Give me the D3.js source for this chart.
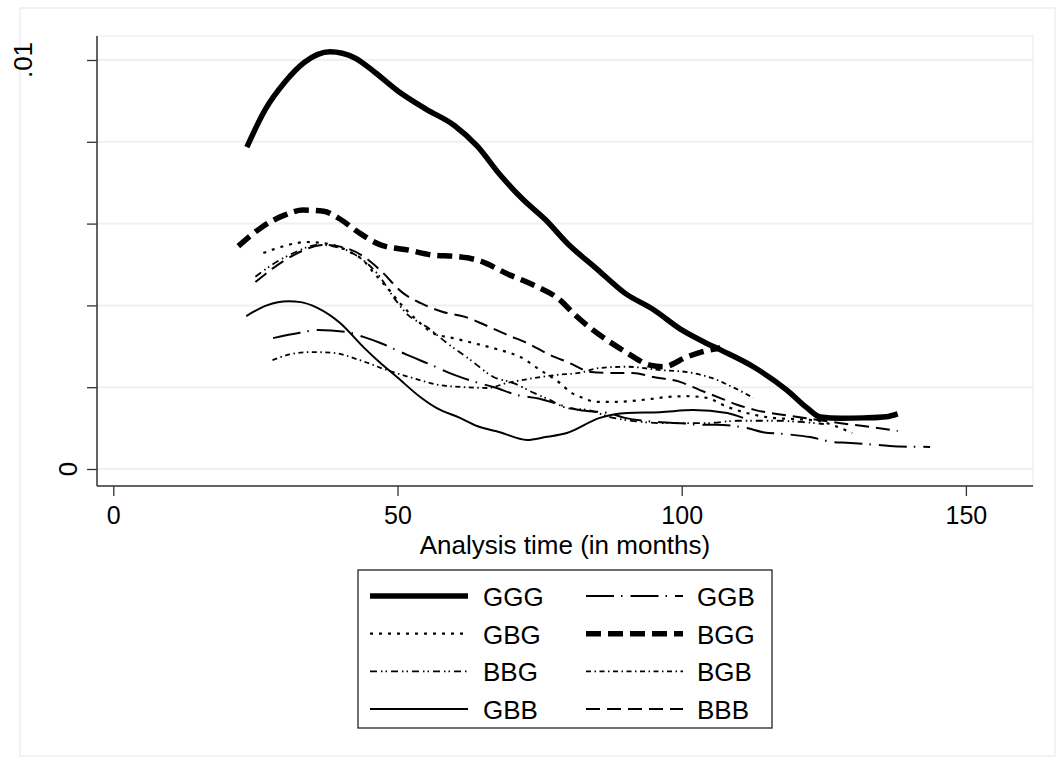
<!DOCTYPE html>
<html>
<head>
<meta charset="utf-8">
<script src="https://cdn.jsdelivr.net/npm/d3@7"></script>
<style>
  body { margin: 0; background: #fff; }
  text { font-family: "Liberation Sans", Arial, sans-serif; fill: #000; }
</style>
</head>
<body>
<svg id="chart" width="1061" height="763"></svg>
<script>
// smoothed hazard estimates, [months, hazard]
const GGG = [[23.5,0.00787],[26.7,0.00878],[30.2,0.00946],[33.7,0.00995],[38.1,0.0102],[42.5,0.01005],[46,0.0097],
  [50,0.00925],[55,0.0088],[60,0.0084],[64,0.0079],[68,0.0072],[72,0.0066],[76,0.0061],[80,0.0055],[85,0.0049],
  [90,0.0043],[95,0.0039],[100,0.0034],[104,0.0031],[107,0.0029],[112.6,0.0025],[118.5,0.00193],[122,0.0015],
  [124.4,0.00127],[128,0.00124],[132,0.00125],[136,0.00128],[138,0.00135]];
const GGB = [[28.1,0.0032],[32.8,0.00333],[36,0.0034],[41.1,0.00335],[44,0.00323],[47,0.00308],[51.7,0.00279],
  [56,0.00254],[60,0.0023],[63.6,0.00213],[67,0.002],[71,0.00181],[75,0.00172],[79,0.00155],[82,0.00144],
  [87,0.00137],[90,0.00125],[95.6,0.00115],[100,0.00112],[103.2,0.00108],[106,0.00108],[111.5,0.001],
  [114.3,0.0009],[118.5,0.00085],[122.6,0.00078],[126.6,0.00066],[129,0.00064],[134.4,0.00059],[138.4,0.00055],[143.7,0.00054]];
const GBG = [[26.4,0.00528],[30,0.00545],[34,0.00555],[38,0.0055],[41.7,0.0053],[44,0.0051],[45.8,0.0048],
  [48.1,0.00445],[50.4,0.00406],[53.4,0.00364],[56.3,0.00332],[59.8,0.0032],[63.3,0.00308],[68,0.00291],
  [71.6,0.00274],[75.1,0.00242],[78.6,0.0021],[80.4,0.00188],[82.6,0.00174],[85,0.00164],[88,0.00164],
  [91,0.00166],[94.4,0.00171],[97.4,0.00176],[100.9,0.00178],[104.4,0.00174],[108,0.00152],[112,0.00135],
  [116,0.00125],[120,0.00122],[124,0.00118],[127,0.00105],[130,0.00088]];
const BGG = [[22,0.00545],[26,0.0059],[30,0.0062],[33.4,0.00633],[37,0.0063],[40,0.0061],[43,0.0058],[47,0.00548],
  [52,0.00535],[56.3,0.00523],[60,0.0052],[64,0.00511],[69.8,0.00474],[73.9,0.0045],[78.6,0.00413],[81,0.0038],
  [83.9,0.00345],[86.9,0.00315],[90.4,0.00284],[94.4,0.00254],[96.8,0.0025],[100.9,0.00274],[104,0.00288],[106.8,0.00296]];
const BBG = [[25,0.0047],[28,0.0050],[32,0.0053],[36,0.00548],[40,0.0054],[43,0.0052],[46.9,0.0047],[49.3,0.0042],
  [51.6,0.0038],[55.2,0.00347],[58.7,0.00308],[62.8,0.00267],[66.9,0.00225],[70.4,0.0021],[74,0.00186],
  [76.8,0.00169],[79.8,0.00149],[83.6,0.00144],[87.4,0.00127],[93,0.00115],[97.4,0.00112],[104,0.00112],
  [110,0.00118],[116,0.00118],[121,0.00115],[125,0.0011]];
const BGB = [[28,0.00266],[31,0.0028],[34.7,0.00286],[38.7,0.00284],[43.4,0.00266],[48.1,0.00242],[52.8,0.00222],
  [57.5,0.00205],[62.2,0.002],[65.8,0.00198],[69.2,0.0021],[73.9,0.00222],[78,0.0023],[82,0.00235],[85.6,0.00247],
  [90.4,0.0025],[96.2,0.00242],[100.9,0.00237],[105.4,0.00222],[109,0.002],[112.6,0.00174]];
const GBB = [[23.4,0.00374],[27,0.004],[30.8,0.0041],[33,0.00408],[35.9,0.00394],[39.9,0.00357],[44,0.00298],
  [47,0.00259],[49.9,0.00225],[54,0.00176],[57,0.00148],[61,0.00125],[64,0.00105],[68,0.0009],[72.8,0.00071],
  [76,0.00078],[79.8,0.00088],[85.6,0.00125],[90.4,0.00137],[96.2,0.00139],[102,0.00144],[108,0.00137],[110.8,0.00125]];
const BBB = [[25,0.00457],[28,0.0049],[32,0.00525],[37,0.00548],[41,0.0054],[44,0.0052],[46.9,0.00487],[51,0.0043],
  [54,0.00406],[58,0.00384],[61.9,0.00372],[65.4,0.00352],[69.3,0.00328],[72.8,0.00308],[76.8,0.00279],
  [80.3,0.00259],[84,0.00237],[87.4,0.00235],[91.4,0.00235],[95,0.00225],[99.7,0.00213],[103.2,0.00193],
  [106.7,0.00174],[110,0.00156],[113,0.00144],[118,0.00132],[124,0.0012],[128,0.00112],[133,0.00103],[138,0.00093]];

const xTicks = [0, 50, 100, 150];
const yTicks = [0, 0.002, 0.004, 0.006, 0.008, 0.01];
const yLabels = {0: "0", 0.01: ".01"};

// legend order: left column then right column
const legendLeft = ["GGG", "GBG", "BBG", "GBB"];
const legendRight = ["GGB", "BGG", "BGB", "BBB"];

const series = {GGG, GGB, GBG, BGG, BBG, BGB, GBB, BBB};
const styles = {
  GGG: {w: 5.5, dash: null},
  GGB: {w: 2, dash: "28,7,1.5,8"},
  GBG: {w: 2.2, dash: "3,6"},
  BGG: {w: 5.5, dash: "15,7"},
  BBG: {w: 1.8, dash: "7,4,1.5,3,1.5,4"},
  BGB: {w: 1.8, dash: "5,3.5,1.5,3.5"},
  GBB: {w: 2, dash: null},
  BBB: {w: 2, dash: "14,7"}
};

const svg = d3.select("#chart");
const plotL = 97, plotR = 1033, plotT = 36, plotB = 486;
const fs = "26px";

const x = d3.scaleLinear().domain([0, 150]).range([113.3, 965.9]);
const y = d3.scaleLinear().domain([0, 0.01]).range([469, 60]);

// outer frame
svg.append("rect").attr("x", 20).attr("y", 8).attr("width", 1035).attr("height", 748)
  .attr("fill", "none").attr("stroke", "#eaf0f2").attr("stroke-width", 1.5);

// plot region border (light)
svg.append("rect").attr("x", plotL).attr("y", plotT).attr("width", plotR - plotL).attr("height", plotB - plotT)
  .attr("fill", "none").attr("stroke", "#eaf2f3").attr("stroke-width", 1.5);

// grid
svg.append("g").selectAll("line").data(yTicks).enter().append("line")
  .attr("x1", plotL).attr("x2", plotR)
  .attr("y1", d => y(d)).attr("y2", d => y(d))
  .attr("stroke", "#eaf2f3").attr("stroke-width", 2);

// y axis
const yAxis = svg.append("g").attr("transform", `translate(${plotL},0)`)
  .call(d3.axisLeft(y).tickValues(yTicks).tickSize(10).tickFormat(""));
yAxis.select(".domain").remove();
yAxis.selectAll("line").attr("stroke", "#333").attr("stroke-width", 1.3);
svg.append("line").attr("x1", plotL).attr("x2", plotL).attr("y1", plotT).attr("y2", plotB)
  .attr("stroke", "#333").attr("stroke-width", 1.5);

svg.append("text").attr("transform", `translate(32,${y(0.01)}) rotate(-90)`)
  .attr("text-anchor", "middle").style("font-size", fs).text(yLabels[0.01]);
svg.append("text").attr("transform", `translate(77,${y(0)}) rotate(-90)`)
  .attr("text-anchor", "middle").style("font-size", fs).text(yLabels[0]);

// x axis
const xAxis = svg.append("g").attr("transform", `translate(0,${plotB})`)
  .call(d3.axisBottom(x).tickValues(xTicks).tickSize(10).tickPadding(10).tickFormat(d3.format("d")));
xAxis.select(".domain").remove();
xAxis.selectAll("line").attr("stroke", "#333").attr("stroke-width", 1.3);
xAxis.selectAll("text").attr("fill", "#000").style("font-size", "25px")
  .style("font-family", "'Liberation Sans', Arial, sans-serif");
svg.append("line").attr("x1", plotL).attr("x2", plotR).attr("y1", plotB).attr("y2", plotB)
  .attr("stroke", "#333").attr("stroke-width", 1.5);

svg.append("text").attr("x", (plotL + plotR) / 2).attr("y", 554)
  .attr("text-anchor", "middle").style("font-size", fs).text("Analysis time (in months)");

// curves
const line = d3.line().x(d => x(d[0])).y(d => y(d[1])).curve(d3.curveMonotoneX);
const drawOrder = ["GBB", "BGB", "BBG", "GGB", "BBB", "GBG", "BGG", "GGG"];
svg.append("g").selectAll("path").data(drawOrder).enter().append("path")
  .attr("d", k => line(series[k]))
  .attr("fill", "none").attr("stroke", "#000")
  .attr("stroke-width", k => styles[k].w)
  .attr("stroke-dasharray", k => styles[k].dash);

// legend
const lg = svg.append("g");
lg.append("rect").attr("x", 358).attr("y", 570).attr("width", 414).attr("height", 158)
  .attr("fill", "#fff").attr("stroke", "#222").attr("stroke-width", 1.3);
const rowY = i => 596 + i * 37.7;
[[legendLeft, 370, 468, 483], [legendRight, 586, 683, 697]].forEach(([keys, x1, x2, tx]) => {
  keys.forEach((k, i) => {
    lg.append("line").attr("x1", x1).attr("x2", x2).attr("y1", rowY(i)).attr("y2", rowY(i))
      .attr("stroke", "#000").attr("stroke-width", styles[k].w)
      .attr("stroke-dasharray", styles[k].dash);
    lg.append("text").attr("x", tx).attr("y", rowY(i) + 10).style("font-size", fs).text(k);
  });
});
</script>
</body>
</html>
